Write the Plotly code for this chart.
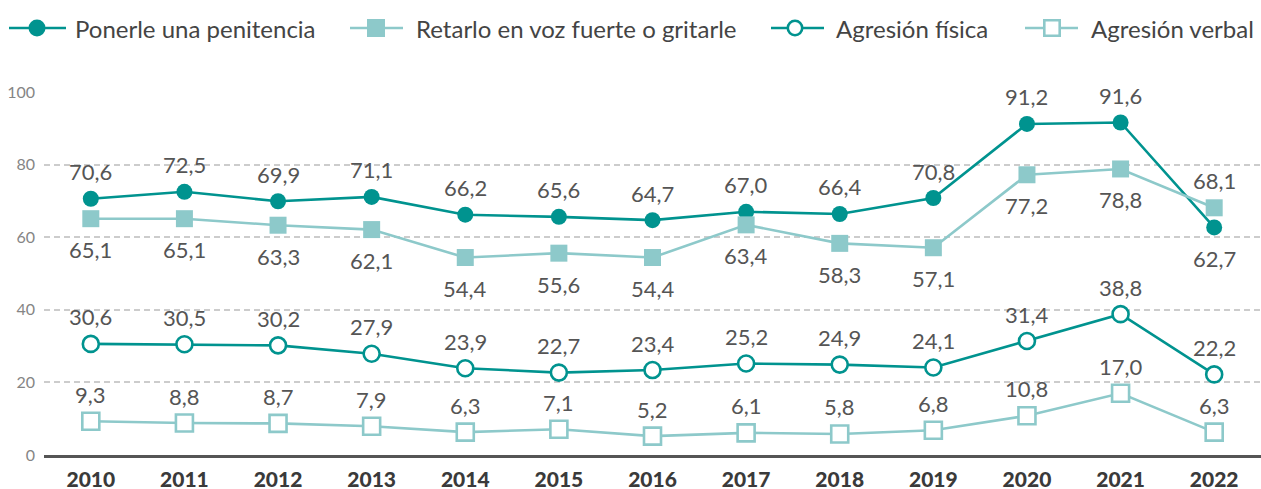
import plotly.graph_objects as go

years = ["2010", "2011", "2012", "2013", "2014", "2015", "2016", "2017", "2018", "2019", "2020", "2021", "2022"]
penitencia = [70.6, 72.5, 69.9, 71.1, 66.2, 65.6, 64.7, 67.0, 66.4, 70.8, 91.2, 91.6, 62.7]
retarlo = [65.1, 65.1, 63.3, 62.1, 54.4, 55.6, 54.4, 63.4, 58.3, 57.1, 77.2, 78.8, 68.1]
fisica = [30.6, 30.5, 30.2, 27.9, 23.9, 22.7, 23.4, 25.2, 24.9, 24.1, 31.4, 38.8, 22.2]
verbal = [9.3, 8.8, 8.7, 7.9, 6.3, 7.1, 5.2, 6.1, 5.8, 6.8, 10.8, 17.0, 6.3]
names = ["Ponerle una penitencia", "Retarlo en voz fuerte o gritarle", "Agresión física", "Agresión verbal"]

dark = "#00938F"
light = "#8DC9CA"
txt = "#555555"
font = "Lato"

W, H = 1261, 489
L, R, T, B = 44, 0, 92, 34
pw, ph = W - L - R, H - T - B

def px(x):
    return (x - L) / pw

def py(y):
    return (H - B - y) / ph

series = [
    dict(y=penitencia, color=dark, symbol="circle", fill=dark, pos=["a"] * 12 + ["b"]),
    dict(y=retarlo, color=light, symbol="square", fill=light, pos=["b"] * 12 + ["a"]),
    dict(y=fisica, color=dark, symbol="circle", fill="white", pos=["a"] * 13),
    dict(y=verbal, color=light, symbol="square", fill="white", pos=["a"] * 13),
]

fig = go.Figure()
annotations = []
shapes = []
for name, s in zip(names, series):
    fig.add_trace(go.Scatter(
        x=years, y=s["y"], name=name, mode="lines+markers", showlegend=False,
        line=dict(color=s["color"], width=2.6),
        marker=dict(symbol=s["symbol"], size=16 if s["symbol"] == "circle" else 17, color=s["fill"],
                    line=dict(color=s["color"], width=0 if s["fill"] != "white" else 2.6)),
    ))
    for i, (v, p) in enumerate(zip(s["y"], s["pos"])):
        annotations.append(dict(
            x=i, y=v, xref="x", yref="y", text=f"{v:.1f}".replace(".", ","), showarrow=False,
            yanchor="middle", xanchor="center", yshift=27 if p == "a" else -31,
            font=dict(size=22, color=txt, family=font),
        ))

# custom legend (pixel layout converted to paper coordinates)
leg_y = 28
leg_items = [
    (9, 66, 37, 75),
    (350, 403, 376, 416),
    (771, 824, 795, 836),
    (1025, 1078, 1052, 1091),
]
for name, s, (x0, x1, xm, xt) in zip(names, series, leg_items):
    shapes.append(dict(type="line", xref="paper", yref="paper", x0=px(x0), x1=px(x1), y0=py(leg_y), y1=py(leg_y),
                       line=dict(color=s["color"], width=2.6)))
    r = 8.5 if s["symbol"] == "circle" else 9
    if s["fill"] == "white":
        r -= 1.3
    shapes.append(dict(type="circle" if s["symbol"] == "circle" else "rect",
                       xref="paper", yref="paper", xsizemode="pixel", ysizemode="pixel",
                       xanchor=px(xm), yanchor=py(leg_y), x0=-r, x1=r, y0=-r, y1=r,
                       fillcolor=s["fill"],
                       line=dict(color=s["color"], width=2.6 if s["fill"] == "white" else 0)))
    annotations.append(dict(x=px(xt), y=py(leg_y), xref="paper", yref="paper", text=name, showarrow=False,
                            xanchor="left", yanchor="middle", xshift=-2,
                            font=dict(size=24, color="#444444", family=font)))

fig.update_layout(
    width=W, height=H,
    margin=dict(l=L, r=R, t=T, b=B, autoexpand=False),
    paper_bgcolor="white", plot_bgcolor="white",
    font=dict(family=font, color=txt),
    showlegend=False,
    annotations=annotations,
    shapes=shapes,
    xaxis=dict(type="category", range=[-0.5, 12.5], showgrid=False, showline=True, automargin=False,
               linecolor="#555555", linewidth=3, ticks="", ticklabelstandoff=4,
               tickfont=dict(size=21, color="#3A3A3A", family=font, weight=900)),
    yaxis=dict(range=[0, 100], tickvals=[0, 20, 40, 60, 80, 100], showgrid=True, automargin=False,
               gridcolor="#CCCCCC", griddash="6px,4px", gridwidth=1.5, zeroline=False,
               showline=False, ticks="", ticklabelstandoff=8,
               tickfont=dict(size=16, color="#858585", family=font)),
)

fig.write_html("out.html", config={"displayModeBar": False},
               post_script="document.body.style.margin='0';document.body.style.overflow='hidden';")
